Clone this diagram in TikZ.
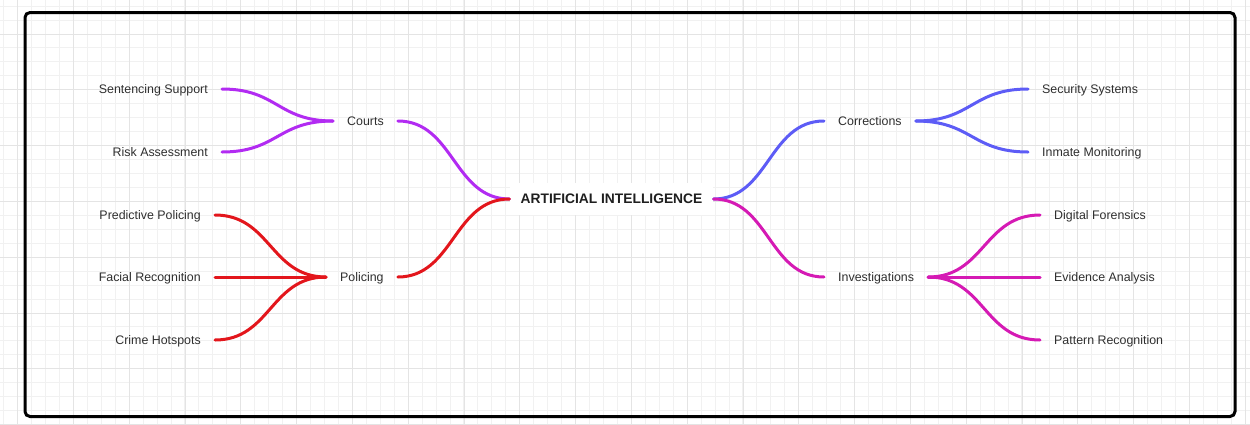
\documentclass[tikz,border=0pt]{standalone}
\usepackage{fontspec}
\setmainfont{Liberation Sans}
\usetikzlibrary{calc}
\definecolor{courtsc}{HTML}{B22BF2}
\definecolor{policec}{HTML}{E3161C}
\definecolor{corrc}{HTML}{5D5CF6}
\definecolor{invc}{HTML}{D51AB4}
\definecolor{txt}{HTML}{2E2E2E}
\definecolor{gridminor}{HTML}{F1F1F1}
\definecolor{gridmajor}{HTML}{E4E4E4}
\tikzset{
  leaf/.style={inner xsep=14pt, inner ysep=2pt, text height=8pt, text depth=-1pt, text=txt, font=\fontsize{12.4}{14}\selectfont},
  mid/.style={inner xsep=14pt, inner ysep=2pt, text height=8pt, text depth=-1pt, text=txt, font=\fontsize{12.4}{14}\selectfont},
  root/.style={inner xsep=11pt, inner ysep=12pt, text height=8.5pt, text depth=-1.2pt, fill=white, text=black!88, font=\fontsize{13.8}{16}\selectfont\bfseries},
  link/.style={line width=3pt, line cap=round,
    to path={let \p1=(\tikztostart), \p2=(\tikztotarget) in
      .. controls ({0.5*\x1+0.5*\x2},\y1) and ({0.5*\x1+0.5*\x2},\y2) .. (\tikztotarget)}},
  frame/.style={line width=3pt, rounded corners=5pt, draw=black}
}
\begin{document}
\begin{tikzpicture}[x=1pt,y=-1pt]
\useasboundingbox (0,0) rectangle (1250,424);
% grid
\foreach \k in {0,...,89} {
  \pgfmathsetmacro\gx{3.5+13.95*\k}
  \draw[gridminor, line width=0.8pt] (\gx,0) -- (\gx,424);
}
\foreach \k in {0,...,30} {
  \pgfmathsetmacro\gy{6+13.95*\k}
  \draw[gridminor, line width=0.8pt] (0,\gy) -- (1250,\gy);
}
\foreach \k in {0,...,22} {
  \pgfmathsetmacro\gx{17.5+55.8*\k}
  \draw[gridmajor, line width=0.8pt] (\gx,0) -- (\gx,424);
}
\foreach \k in {0,...,7} {
  \pgfmathsetmacro\gy{33.9+55.8*\k}
  \draw[gridmajor, line width=0.8pt] (0,\gy) -- (1250,\gy);
}
% frame
\draw[frame] (25,12.5) rectangle (1235,416.5);

% nodes
\node[root] (ai) at (611.5,199) {ARTIFICIAL INTELLIGENCE};

\node[mid, anchor=west] (courts) at (333,121) {Courts};
\node[mid, anchor=west] (policing) at (326,277) {Policing};
\node[mid, anchor=west] (corr) at (824,121) {Corrections};
\node[mid, anchor=west] (inv) at (824,277) {Investigations};

\node[leaf, anchor=east] (ss) at (222,89) {Sentencing Support};
\node[leaf, anchor=east] (ra) at (222,152) {Risk Assessment};
\node[leaf, anchor=east] (pp) at (215,215) {Predictive Policing};
\node[leaf, anchor=east] (fr) at (215,277) {Facial Recognition};
\node[leaf, anchor=east] (ch) at (215,340) {Crime Hotspots};

\node[leaf, anchor=west] (sec) at (1028,89) {Security Systems};
\node[leaf, anchor=west] (inm) at (1028,152) {Inmate Monitoring};
\node[leaf, anchor=west] (df) at (1040,215) {Digital Forensics};
\node[leaf, anchor=west] (ea) at (1040,277) {Evidence Analysis};
\node[leaf, anchor=west] (pr) at (1040,340) {Pattern Recognition};

% connectors
\draw[link, courtsc] (ai.west) to (courts.east);
\draw[link, courtsc] (courts.west) to (ss.east);
\draw[link, courtsc] (courts.west) to (ra.east);

\draw[link, policec] (ai.west) to (policing.east);
\draw[link, policec] (policing.west) to (pp.east);
\draw[link, policec] (policing.west) to (fr.east);
\draw[link, policec] (policing.west) to (ch.east);

\draw[link, corrc] (ai.east) to (corr.west);
\draw[link, corrc] (corr.east) to (sec.west);
\draw[link, corrc] (corr.east) to (inm.west);

\draw[link, invc] (ai.east) to (inv.west);
\draw[link, invc] (inv.east) to (df.west);
\draw[link, invc] (inv.east) to (ea.west);
\draw[link, invc] (inv.east) to (pr.west);
\end{tikzpicture}
\end{document}
